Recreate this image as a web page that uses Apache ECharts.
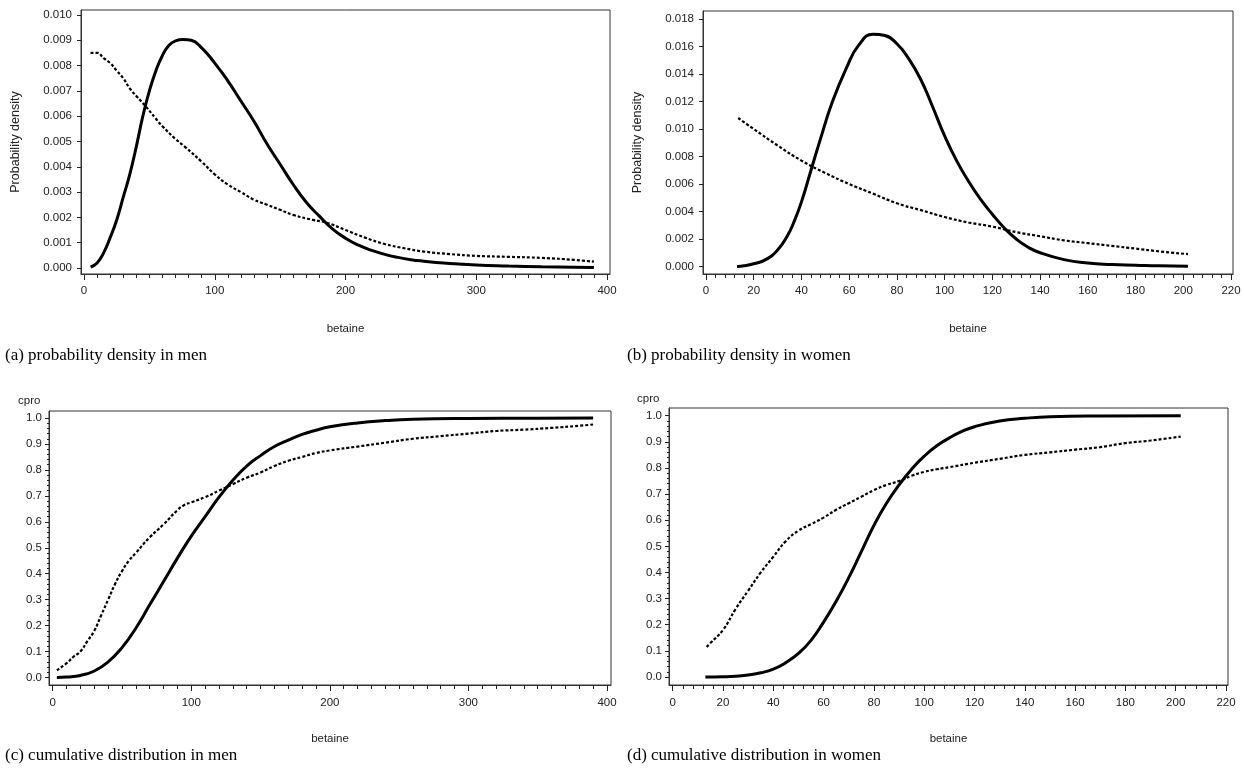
<!DOCTYPE html>
<html><head><meta charset="utf-8">
<script src="https://cdn.jsdelivr.net/npm/echarts@6/dist/echarts.min.js"></script>
<style>html,body{margin:0;padding:0;background:#fff}#c{width:1244px;height:769px}</style>
</head><body><div id="c"></div>
<script>
// ---------- DATA ----------
const menXTicks = [0, 100, 200, 300, 400];
const womenXTicks = [0, 20, 40, 60, 80, 100, 120, 140, 160, 180, 200, 220];
const menPdfYTicks = [0, 0.001, 0.002, 0.003, 0.004, 0.005, 0.006, 0.007, 0.008, 0.009, 0.010];
const womenPdfYTicks = [0, 0.002, 0.004, 0.006, 0.008, 0.010, 0.012, 0.014, 0.016, 0.018];
const cdfYTicks = [0, 0.1, 0.2, 0.3, 0.4, 0.5, 0.6, 0.7, 0.8, 0.9, 1.0];

const menPdfSolid = [[5,0.00004],[10,0.0002],[15,0.0006],[20,0.0012],[25,0.0019],[30,0.0028],[35,0.0037],[40,0.0048],[45,0.0060],[50,0.0070],[55,0.0078],[60,0.0084],[65,0.0088],[70,0.00898],[76,0.00903],[82,0.0090],[90,0.0087],[100,0.0081],[110,0.0074],[120,0.0066],[130,0.0058],[140,0.0049],[150,0.0041],[160,0.0033],[170,0.0026],[180,0.00205],[190,0.00155],[200,0.00118],[210,0.0009],[220,0.0007],[230,0.00054],[240,0.00042],[250,0.00033],[260,0.00027],[275,0.0002],[300,0.00012],[325,0.00008],[350,0.00005],[375,0.00003],[390,0.00002]];
const menPdfDotted = [[5,0.0085],[10,0.0085],[15,0.0083],[20,0.0081],[25,0.0078],[30,0.0075],[35,0.0071],[40,0.0068],[47,0.0064],[55,0.0059],[60,0.0056],[70,0.0051],[77,0.0048],[90,0.0042],[100,0.0037],[110,0.0033],[120,0.0030],[130,0.0027],[140,0.0025],[150,0.0023],[160,0.0021],[175,0.0019],[185,0.0018],[200,0.0015],[215,0.0012],[230,0.00095],[245,0.00078],[260,0.00065],[280,0.00055],[300,0.00048],[325,0.00044],[350,0.0004],[375,0.00032],[390,0.00025]];

const womenPdfSolid = [[13,0],[16,0.00005],[20,0.0002],[25,0.0005],[30,0.0012],[34,0.0022],[37,0.0033],[40,0.0047],[44,0.0070],[48,0.0093],[53,0.0120],[59,0.0145],[64,0.0161],[70,0.0169],[75,0.0168],[80,0.0162],[85,0.0151],[90,0.0136],[95,0.0116],[100,0.0095],[105,0.0077],[110,0.0062],[115,0.0049],[120,0.0038],[125,0.0028],[130,0.0020],[135,0.0014],[140,0.0010],[150,0.0005],[160,0.00025],[170,0.00015],[180,0.0001],[190,0.00005],[202,0.00002]];
const womenPdfDotted = [[13.5,0.0108],[20,0.0100],[30,0.0088],[40,0.0077],[50,0.0068],[60,0.0060],[70,0.0053],[80,0.0046],[90,0.0041],[100,0.0036],[110,0.0032],[120,0.0029],[130,0.0025],[140,0.0022],[150,0.0019],[160,0.0017],[170,0.0015],[180,0.0013],[190,0.0011],[202,0.0009]];

const menCdfSolid = [[3,0],[10,0.002],[20,0.008],[30,0.025],[40,0.06],[50,0.115],[60,0.19],[70,0.28],[80,0.37],[90,0.46],[100,0.545],[110,0.62],[120,0.695],[130,0.76],[140,0.815],[150,0.855],[160,0.89],[170,0.915],[180,0.937],[190,0.953],[200,0.966],[220,0.981],[240,0.99],[260,0.995],[300,0.998],[350,0.999],[390,1.0]];
const menCdfDotted = [[3,0.028],[10,0.055],[15,0.08],[20,0.10],[25,0.14],[30,0.18],[35,0.24],[40,0.30],[45,0.36],[50,0.41],[55,0.45],[60,0.48],[70,0.54],[80,0.59],[90,0.645],[95,0.665],[100,0.675],[110,0.695],[120,0.72],[130,0.745],[140,0.77],[150,0.79],[160,0.815],[170,0.835],[180,0.85],[190,0.865],[200,0.875],[220,0.89],[240,0.905],[260,0.92],[280,0.93],[300,0.94],[320,0.95],[340,0.955],[360,0.962],[380,0.97],[390,0.975]];

const womenCdfSolid = [[13,0],[20,0.001],[25,0.003],[30,0.008],[35,0.016],[40,0.03],[45,0.055],[50,0.09],[55,0.14],[60,0.21],[65,0.29],[70,0.38],[75,0.48],[80,0.58],[85,0.665],[90,0.735],[95,0.795],[100,0.845],[105,0.885],[110,0.915],[115,0.94],[120,0.958],[130,0.98],[140,0.99],[150,0.996],[170,0.999],[202,1.0]];
const womenCdfDotted = [[13.5,0.115],[15,0.13],[20,0.18],[25,0.26],[30,0.33],[35,0.40],[40,0.46],[45,0.52],[50,0.56],[55,0.585],[60,0.61],[65,0.64],[70,0.665],[75,0.69],[80,0.715],[85,0.735],[90,0.75],[95,0.77],[100,0.785],[105,0.795],[110,0.803],[120,0.82],[130,0.835],[140,0.85],[150,0.86],[160,0.87],[170,0.88],[180,0.895],[190,0.905],[202,0.92]];

const captions = ['(a) probability density in men', '(b) probability density in women', '(c) cumulative distribution in men', '(d) cumulative distribution in women'];

// ---------- LAYOUT ----------
const FONT = '"Liberation Sans", Arial, Helvetica, sans-serif';
const SERIF = '"Liberation Serif", "Times New Roman", serif';
const INK = '#222';

function range(a, b, step, dec) { const out = []; const n = Math.round((b - a) / step); for (let i = 0; i <= n; i++) out.push(+(a + i * step).toFixed(dec)); return out; }

const panels = [
  { box:{l:81,t:10,r:610,b:274}, x:[-2.3,402.3], y:[-0.000237,0.0101976], xMaj:menXTicks, xMin:range(0,400,10,0), yMaj:menPdfYTicks, yMin:null, yDec:3, yName:'Probability density', xLabelMargin:11, xNameGap:49, yLabelMargin:9, solid:menPdfSolid, dotted:menPdfDotted },
  { box:{l:703,t:11,r:1233,b:274}, x:[-1.26,220.84], y:[-0.000545,0.018582], xMaj:womenXTicks, xMin:range(0,220,4,0), yMaj:womenPdfYTicks, yMin:null, yDec:3, yName:'Probability density', xLabelMargin:11, xNameGap:49, yLabelMargin:9, solid:womenPdfSolid, dotted:womenPdfDotted },
  { box:{l:49,t:411,r:611,b:685}, x:[-2.67,402.9], y:[-0.0289,1.027], xMaj:menXTicks, xMin:range(0,400,10,0), yMaj:cdfYTicks, yMin:range(0,1,0.02,2), yDec:1, yName:null, xLabelMargin:12, xNameGap:48, yLabelMargin:7, solid:menCdfSolid, dotted:menCdfDotted },
  { box:{l:669,t:408,r:1228,b:685}, x:[-1.47,220.8], y:[-0.0307,1.0295], xMaj:womenXTicks, xMin:range(0,220,4,0), yMaj:cdfYTicks, yMin:range(0,1,0.02,2), yDec:1, yName:null, xLabelMargin:12, xNameGap:48, yLabelMargin:7, solid:womenCdfSolid, dotted:womenCdfDotted }
];

const grid = [], xAxis = [], yAxis = [], series = [];
const txt = { color: INK, fontFamily: FONT, fontSize: 11.5 };
const nameTxt = { color: INK, fontFamily: FONT, fontSize: 12.5 };
panels.forEach((p, i) => {
  grid.push({ left:p.box.l, top:p.box.t, width:p.box.r-p.box.l, height:p.box.b-p.box.t, show:true, borderColor:'#333', borderWidth:1, backgroundColor:'transparent' });
  xAxis.push({ type:'value', gridIndex:i, min:p.x[0], max:p.x[1], position:'bottom',
    axisLine:{show:true, onZero:false, lineStyle:{color:'#333', width:1}},
    axisTick:{show:true, customValues:p.xMaj, length:6, lineStyle:{color:INK, width:1}},
    axisLabel:Object.assign({show:true, customValues:p.xMaj, margin:p.xLabelMargin, formatter:v=>String(Math.round(v))}, txt),
    splitLine:{show:false}, name:'betaine', nameLocation:'middle', nameGap:p.xNameGap, nameTextStyle:txt });
  xAxis.push({ type:'value', gridIndex:i, min:p.x[0], max:p.x[1], position:'bottom',
    axisLine:{show:false, onZero:false}, axisTick:{show:true, customValues:p.xMin, length:4, lineStyle:{color:INK, width:1}},
    axisLabel:{show:false}, splitLine:{show:false} });
  const ya = { type:'value', gridIndex:i, min:p.y[0], max:p.y[1], position:'left',
    axisLine:{show:true, onZero:false, lineStyle:{color:'#333', width:1}},
    axisTick:{show:true, customValues:p.yMaj, length:4, lineStyle:{color:INK, width:1}},
    axisLabel:Object.assign({show:true, customValues:p.yMaj, margin:p.yLabelMargin, formatter:v=>v.toFixed(p.yDec)}, txt),
    splitLine:{show:false} };
  if (p.yName) Object.assign(ya, { name:p.yName, nameLocation:'middle', nameGap:59, nameTextStyle:nameTxt });
  yAxis.push(ya);
  yAxis.push({ type:'value', gridIndex:i, min:p.y[0], max:p.y[1], position:'left',
    axisLine:{show:false, onZero:false}, axisTick:{show:!!p.yMin, customValues:p.yMin || [], length:2, lineStyle:{color:INK, width:1}},
    axisLabel:{show:false}, splitLine:{show:false} });
  series.push({ type:'line', xAxisIndex:2*i, yAxisIndex:2*i, data:p.solid, showSymbol:false, smooth:0.5,
    lineStyle:{color:'#000', width:3}, silent:true, z:3 });
  series.push({ type:'line', xAxisIndex:2*i, yAxisIndex:2*i, data:p.dotted, showSymbol:false, smooth:0.5,
    lineStyle:{color:'#000', width:2.2, type:[3,2], cap:'butt'}, silent:true, z:2 });
});

const graphic = [
  { type:'text', left:5, top:347, style:{ text:captions[0], fill:'#000', font:'17px ' + SERIF } },
  { type:'text', left:627, top:347, style:{ text:captions[1], fill:'#000', font:'17px ' + SERIF } },
  { type:'text', left:5, top:747, style:{ text:captions[2], fill:'#000', font:'17px ' + SERIF } },
  { type:'text', left:627, top:747, style:{ text:captions[3], fill:'#000', font:'17px ' + SERIF } },
  { type:'text', left:18, top:395, style:{ text:'cpro', fill:INK, font:'11.5px ' + FONT } },
  { type:'text', left:637, top:393, style:{ text:'cpro', fill:INK, font:'11.5px ' + FONT } }
];

const chart = echarts.init(document.getElementById('c'), null, { renderer:'canvas' });
chart.setOption({ animation:false, backgroundColor:'#fff', grid, xAxis, yAxis, series, graphic });
</script></body></html>
